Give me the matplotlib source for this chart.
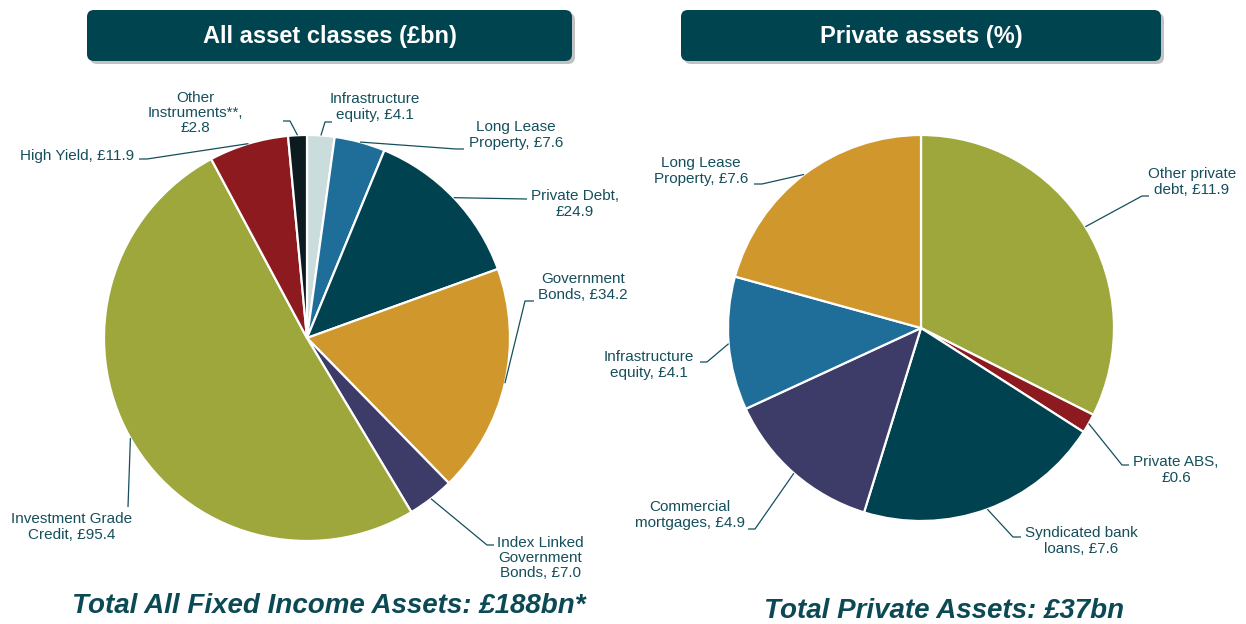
import matplotlib
matplotlib.use('Agg')
import numpy as np
import matplotlib.pyplot as plt
from matplotlib import font_manager
from matplotlib.patches import FancyBboxPatch

# ---- data ----
all_labels = ['Infrastructure\nequity, £4.1', 'Long Lease\nProperty, £7.6', 'Private Debt,\n£24.9',
              'Government\nBonds, £34.2', 'Index Linked\nGovernment\nBonds, £7.0',
              'Investment Grade\nCredit, £95.4', 'High Yield, £11.9', 'Other\nInstruments**,\n£2.8']
all_values = [4.1, 7.6, 24.9, 34.2, 7.0, 95.4, 11.9, 2.8]
all_colors = ['#cbdcdc', '#1f6e9a', '#00424f', '#cf972c', '#3d3c68', '#9da73c', '#8c1a1f', '#0c1b1f']

priv_labels = ['Other private\ndebt, £11.9', 'Private ABS,\n£0.6', 'Syndicated bank\nloans, £7.6',
               'Commercial\nmortgages, £4.9', 'Infrastructure\nequity, £4.1', 'Long Lease\nProperty, £7.6']
priv_values = [11.9, 0.6, 7.6, 4.9, 4.1, 7.6]
priv_colors = ['#9da73c', '#8c1a1f', '#00424f', '#3d3c68', '#1f6e9a', '#cf972c']

W, H = 1246, 624
TXT = '#154f5c'
HEAD = '#00444f'


def has_font(name):
    try:
        font_manager.findfont(name, fallback_to_default=False)
        return True
    except Exception:
        return False


narrow = 'Liberation Sans Narrow' if has_font('Liberation Sans Narrow') else 'Liberation Sans'
plt.rcParams['font.family'] = ['Liberation Sans', 'DejaVu Sans']

fig = plt.figure(figsize=(W / 100, H / 100), dpi=100)

# overlay in pixel coordinates
ov = fig.add_axes([0, 0, 1, 1], zorder=5)
ov.set_xlim(0, W)
ov.set_ylim(H, 0)
ov.axis('off')
ov.patch.set_alpha(0)


def draw_pie(cx, cy, r, values, colors):
    ax = fig.add_axes([(cx - r) / W, (H - cy - r) / H, 2 * r / W, 2 * r / H])
    wedges, _ = ax.pie(values, colors=colors, startangle=90, counterclock=False, radius=1,
                       wedgeprops=dict(edgecolor='white', linewidth=1.6))
    ax.set_xlim(-1, 1)
    ax.set_ylim(-1, 1)
    ax.set_aspect('equal')
    ax.axis('off')
    pts = []
    for w in wedges:
        t = np.deg2rad((w.theta1 + w.theta2) / 2)
        pts.append((cx + r * np.cos(t), cy - r * np.sin(t)))
    return pts


def put_labels(pts, labels, spec):
    for (ex, ey), lab, (tx, ty, ha, path) in zip(pts, labels, spec):
        xs = [ex] + [p[0] for p in path]
        ys = [ey] + [p[1] for p in path]
        ov.plot(xs, ys, color=TXT, lw=0.9, solid_capstyle='butt')
        ov.text(tx, ty, lab, ha=ha, va='center', multialignment='center', fontsize=11,
                color=TXT, linespacing=1.12)


# left pie
lpts = draw_pie(307, 338, 203, all_values, all_colors)
left_spec = [
    (375, 107, 'center', [(325, 122), (332, 122)]),
    (516, 135, 'center', [(456, 149), (464, 149)]),
    (575, 204, 'center', [(527, 199)]),
    (583, 287, 'center', [(525, 301), (534, 301)]),
    (540, 558, 'center', [(487, 545), (494, 545)]),
    (72, 527, 'center', [(128, 507)]),
    (77, 156, 'center', [(147, 159), (139, 159)]),
    (195, 113, 'center', [(290, 121), (283, 121)]),
]
put_labels(lpts, all_labels, left_spec)

# right pie
rpts = draw_pie(921, 328, 193, priv_values, priv_colors)
right_spec = [
    (1192, 182, 'center', [(1142, 196), (1149, 196)]),
    (1176, 470, 'center', [(1122, 465), (1129, 465)]),
    (1081, 541, 'center', [(1013, 537), (1021, 537)]),
    (690, 515, 'center', [(755, 529), (748, 529)]),
    (649, 365, 'center', [(707, 362), (700, 362)]),
    (701, 171, 'center', [(762, 184), (754, 184)]),
]
put_labels(rpts, priv_labels, right_spec)

# header boxes
for x0, x1, title in [(87, 572, 'All asset classes (£bn)'), (681, 1161, 'Private assets (%)')]:
    sh = FancyBboxPatch((x0 + 3, 13), x1 - x0, 51, boxstyle='round,pad=0,rounding_size=7',
                        fc='#9a9a9a', ec='none', alpha=0.6)
    ov.add_patch(sh)
    bx = FancyBboxPatch((x0, 10), x1 - x0, 51, boxstyle='round,pad=0,rounding_size=7',
                        fc=HEAD, ec='none')
    ov.add_patch(bx)
    ov.text((x0 + x1) / 2, 36, title, ha='center', va='center', color='white',
            fontsize=17, fontweight='bold', family=[narrow, 'DejaVu Sans'])

# totals
ov.text(329, 606, 'Total All Fixed Income Assets: £188bn*', ha='center', va='center',
        color='#0b4a55', fontsize=20, fontweight='bold', fontstyle='italic',
        family=[narrow, 'DejaVu Sans'])
ov.text(944, 611, 'Total Private Assets: £37bn', ha='center', va='center',
        color='#0b4a55', fontsize=20, fontweight='bold', fontstyle='italic',
        family=[narrow, 'DejaVu Sans'])

fig.savefig('out.png', dpi=100)
